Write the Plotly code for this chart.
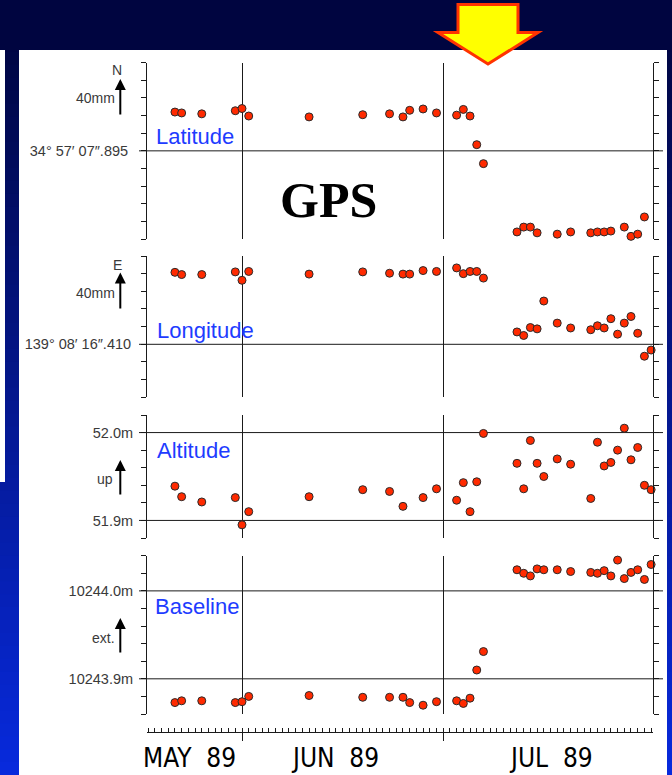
import numpy as np
import plotly.graph_objects as go

# ---------------------------------------------------------------- data
dates = ["1989-05-22", "1989-05-23", "1989-05-26", "1989-05-31", "1989-06-01", "1989-06-02",
         "1989-06-11", "1989-06-19", "1989-06-23", "1989-06-25", "1989-06-26", "1989-06-28",
         "1989-06-30", "1989-07-03", "1989-07-04", "1989-07-05", "1989-07-06", "1989-07-07",
         "1989-07-12", "1989-07-13", "1989-07-14", "1989-07-15", "1989-07-16", "1989-07-18",
         "1989-07-20", "1989-07-23", "1989-07-24", "1989-07-25", "1989-07-26", "1989-07-27",
         "1989-07-28", "1989-07-29", "1989-07-30", "1989-07-31", "1989-08-01"]

# northward offset from 34°57'07".895 (mm)
latitude_mm = [44, 43, 42, 45.5, 48, 39.5, 38.5, 41, 42, 38.5, 46, 47.5,
               43, 40.5, 47, 39.5, 7, -14.5, -92, -86.5, -86.5, -93, -103, -94.5,
               -92, -93, -92, -92, -91, -103.5, -86.5, -97, -94.5, -75, None]
# eastward offset from 139°08'16".410 (mm)
longitude_mm = [81.5, 79, 79, 82, 72.5, 82.5, 79.5, 82, 80.5, 79.5, 79.5, 83.5,
                82.5, 86.5, 80, 82.5, 82.5, 75, 14, 10, 19, 17.5, 49, 24,
                18.5, 16.5, 21, 18.5, 29, 11.5, 24, 31.5, 12.5, -13.5, -6.5]
altitude_m = [51.939, 51.927, 51.921, 51.926, 51.895, 51.910, 51.927, 51.935, 51.933, 51.916, 51.879, 51.926,
              51.936, 51.923, 51.943, 51.910, 51.944, 51.999, 51.965, 51.936, 51.991, 51.965, 51.950, 51.970,
              51.964, 51.925, 51.989, 51.962, 51.966, 51.980, 52.005, 51.969, 51.983, 51.940, 51.935]
baseline_m = [10243.873, 10243.875, 10243.875, 10243.873, 10243.874, 10243.880, 10243.881, 10243.879,
              10243.879, 10243.879, 10243.873, 10243.870, 10243.874, 10243.875, 10243.872, 10243.878,
              10243.910, 10243.931, 10244.024, 10244.020, 10244.017, 10244.025, 10244.024, 10244.024,
              10244.022, 10244.021, 10244.020, 10244.023, 10244.017, 10244.035, 10244.014, 10244.021,
              10244.024, 10244.013, 10244.030]

month_starts = ["1989-06-01", "1989-07-01"]
month_labels = ["MAY  89", "JUN  89", "JUL  89"]
panel_names = ["Latitude", "Longitude", "Altitude", "Baseline"]

lat_ticks = list(range(-100, 101, 20))
lon_ticks = list(range(-60, 101, 20))
alt_ticks = [round(51.88 + 0.02 * k, 2) for k in range(8)]
base_ticks = [round(10243.86 + 0.02 * k, 2) for k in range(10)]

lat_labels = {0: "34° 57′ 07″.895"}
lon_labels = {0: "139° 08′ 16″.410"}
alt_labels = {52.0: "52.0m", 51.9: "51.9m"}
base_labels = {10244.0: "10244.0m", 10243.9: "10243.9m"}

# ---------------------------------------------------------------- geometry helpers (pixels -> paper)
W, H = 672, 775


def fx(p):
    return p / W


def fy(p):
    return 1 - p / H


X_RANGE = ["1989-05-17 20:00", "1989-08-01 06:45"]
X_DOMAIN = [fx(147), fx(653)]

panels = [
    dict(vals=latitude_mm, ticks=lat_ticks, labels=lat_labels, refs=[0], top=62.7, bot=239.0,
         standoff=10, name_pos=(154, 136)),
    dict(vals=longitude_mm, ticks=lon_ticks, labels=lon_labels, refs=[0], top=256.0, bot=397.3,
         standoff=7, name_pos=(155, 330)),
    dict(vals=altitude_m, ticks=alt_ticks, labels=alt_labels, refs=[52.0, 51.9], top=415.0, bot=538.0,
         standoff=5, name_pos=(155, 450)),
    dict(vals=baseline_m, ticks=base_ticks, labels=base_labels, refs=[10244.0, 10243.9], top=555.7, bot=714.0,
         standoff=5, name_pos=(153, 606)),
]

AX_COLOR = "#1a1a1a"
TICK_FONT = dict(family="Liberation Sans, Arial, sans-serif", size=14.5, color="#3a3a3a")
NAME_FONT = dict(family="Liberation Sans, Arial, sans-serif", size=22, color="#1e3cff")

fig = go.Figure()
layout = dict(
    width=W, height=H, margin=dict(l=0, r=0, t=0, b=0),
    paper_bgcolor="#00043c", plot_bgcolor="rgba(0,0,0,0)",
    showlegend=False, shapes=[], annotations=[],
)

for i, p in enumerate(panels):
    n = "" if i == 0 else str(i + 1)
    fig.add_trace(go.Scatter(
        x=dates, y=p["vals"], mode="markers", xaxis="x" + n, yaxis="y" + n,
        cliponaxis=False, hoverinfo="skip",
        marker=dict(size=8, color="#ff2a00", line=dict(color="#2a2a2a", width=1)),
    ))
    ticks = p["ticks"]
    lo, hi = ticks[0], ticks[-1]
    layout["xaxis" + n] = dict(
        domain=X_DOMAIN, range=X_RANGE, type="date", anchor="y" + n,
        showline=False, ticks="", showticklabels=False, zeroline=False,
        showgrid=True, gridcolor=AX_COLOR, gridwidth=1,
        tickmode="array", tickvals=month_starts,
    )
    layout["yaxis" + n] = dict(
        domain=[fy(p["bot"]), fy(p["top"])], range=[lo, hi], anchor="x" + n,
        tickmode="array", tickvals=ticks,
        ticktext=[p["labels"].get(t, "") for t in ticks],
        ticks="outside", ticklen=5, tickwidth=1, tickcolor=AX_COLOR,
        showline=True, linecolor=AX_COLOR, linewidth=1, mirror="ticks",
        showgrid=False, zeroline=False, tickfont=TICK_FONT,
        ticklabelstandoff=p["standoff"],
    )
    # reference levels drawn slightly past both axes
    for r in p["refs"]:
        layout["shapes"].append(dict(
            type="line", xref="paper", yref="y" + n, x0=fx(139), x1=fx(663), y0=r, y1=r,
            line=dict(color=AX_COLOR, width=1), layer="below",
        ))
    layout["annotations"].append(dict(
        text=panel_names[i], xref="paper", yref="paper",
        x=fx(p["name_pos"][0]), y=fy(p["name_pos"][1]), xanchor="left", yanchor="middle",
        showarrow=False, font=NAME_FONT,
    ))

# bottom time axis with daily ticks (empty trace so the subplot is built)
fig.add_trace(go.Scatter(x=[], y=[], xaxis="x5", yaxis="y5", mode="markers", hoverinfo="skip"))
layout["xaxis5"] = dict(
    domain=X_DOMAIN, range=X_RANGE, type="date", anchor="y5",
    showline=True, linecolor=AX_COLOR, linewidth=1, zeroline=False,
    tickmode="array", tickvals=month_starts, ticks="outside", ticklen=8, tickcolor=AX_COLOR,
    showticklabels=False, showgrid=True, gridcolor=AX_COLOR, gridwidth=1,
    minor=dict(ticks="inside", ticklen=4, tickcolor=AX_COLOR, dtick=86400000,
               tick0="1989-05-18", showgrid=False),
)
layout["yaxis5"] = dict(domain=[fy(732.3), fy(729)], range=[0, 1], anchor="x5",
                        showline=False, showgrid=False, zeroline=False, ticks="", showticklabels=False)

month_centres = [189, 335, 551]
for txt, cx in zip(month_labels, month_centres):
    layout["annotations"].append(dict(
        text=txt, xref="paper", yref="paper", x=fx(cx), y=fy(758), xanchor="center", yanchor="middle",
        showarrow=False,
        font=dict(family="Liberation Sans Narrow, DejaVu Sans Condensed, Arial Narrow, sans-serif",
                  size=26, color="#000000"),
    ))

# direction hints on the left
SMALL = dict(family="Liberation Sans, Arial, sans-serif", size=14, color="#3a3a3a")
hints = [("N", 124, 70.5), ("40mm", 117, 98.5), ("E", 124, 264.5), ("40mm", 117, 293),
         ("up", 115, 478.5), ("ext.", 117, 637.5)]
for txt, rx, cy in hints:
    layout["annotations"].append(dict(
        text=txt, xref="paper", yref="paper", x=fx(rx), y=fy(cy), xanchor="right", yanchor="middle",
        showarrow=False, font=SMALL,
    ))
for head, tail in [(79, 116), (272.5, 310), (460, 496), (618, 654)]:
    layout["annotations"].append(dict(
        text="", xref="paper", yref="paper", x=fx(120.3), y=fy(head),
        ax=0, ay=tail - head, showarrow=True, arrowhead=2, arrowsize=1.1, arrowwidth=2,
        arrowcolor="#000000", standoff=0,
    ))

layout["annotations"].append(dict(
    text="<b>GPS</b>", xref="paper", yref="paper", x=fx(328), y=fy(200),
    xanchor="center", yanchor="middle", showarrow=False,
    font=dict(family="Liberation Serif, Times New Roman, serif", size=50, color="#000000"),
))

# slide background: vertical navy-to-blue gradient, white sheet, thin strip at far left
bg_shapes = []
top_rgb = np.array([0, 4, 60])
bot_rgb = np.array([8, 42, 220])
nb = 60
for k in range(nb):
    t = k / (nb - 1)
    c = (top_rgb + (bot_rgb - top_rgb) * t).astype(int)
    y0, y1 = k * H / nb, (k + 1) * H / nb + 1
    bg_shapes.append(dict(type="rect", xref="paper", yref="paper", x0=0, x1=1, y0=fy(y1), y1=fy(y0),
                          line=dict(width=0), fillcolor=f"rgb({c[0]},{c[1]},{c[2]})", layer="below"))
top_band = dict(type="rect", xref="paper", yref="paper", x0=0, x1=1, y0=fy(50), y1=1,
                line=dict(width=0), fillcolor="#000540", layer="below")
sheet = dict(type="rect", xref="paper", yref="paper", x0=fx(19), x1=fx(667), y0=0, y1=fy(50),
             line=dict(width=0), fillcolor="#ffffff", layer="below")
strip = dict(type="rect", xref="paper", yref="paper", x0=0, x1=fx(5), y0=fy(482), y1=fy(50),
             line=dict(width=0), fillcolor="#ffffff", layer="below")

# marker arrow pointing at the early-July change
pts = [(458, 4.5), (518, 4.5), (518, 32.5), (538, 32.5), (488, 64), (438, 32.5), (458, 32.5)]
path = "M " + " L ".join(f"{fx(a):.5f},{fy(b):.5f}" for a, b in pts) + " Z"
arrow = dict(type="path", xref="paper", yref="paper", path=path,
             fillcolor="#ffff00", line=dict(color="#ff3300", width=3), layer="above")

layout["shapes"] = bg_shapes + [top_band, sheet, strip] + layout["shapes"] + [arrow]

fig.update_layout(**layout)
fig.write_html("out.html")
